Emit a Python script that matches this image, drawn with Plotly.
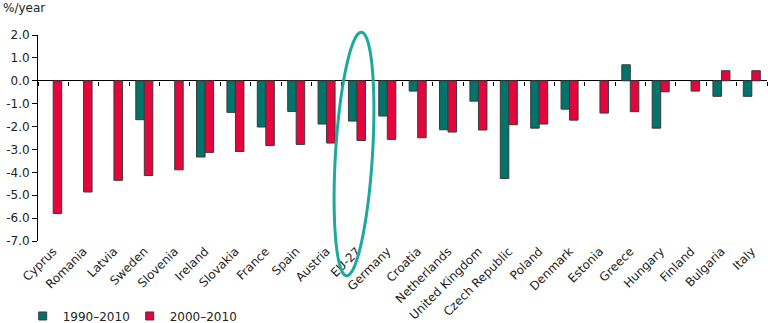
import numpy as np
import plotly.graph_objects as go

countries = ["Cyprus", "Romania", "Latvia", "Sweden", "Slovenia", "Ireland", "Slovakia",
             "France", "Spain", "Austria", "EU-27", "Germany", "Croatia", "Netherlands",
             "United Kingdom", "Czech Republic", "Poland", "Denmark", "Estonia", "Greece",
             "Hungary", "Finland", "Bulgaria", "Italy"]
v1990_2010 = [None, None, None, -1.70, None, -3.33, -1.38,
              -2.02, -1.34, -1.89, -1.76, -1.54, -0.45, -2.14,
              -0.89, -4.27, -2.07, -1.24, None, 0.70,
              -2.07, None, -0.68, -0.68]
v2000_2010 = [-5.80, -4.86, -4.35, -4.14, -3.89, -3.13, -3.09,
              -2.83, -2.78, -2.72, -2.61, -2.56, -2.49, -2.24,
              -2.15, -1.92, -1.89, -1.72, -1.41, -1.35,
              -0.48, -0.45, 0.44, 0.44]
ytick_vals = [2, 1, 0, -1, -2, -3, -4, -5, -6, -7]
ytick_text = ["2.0", "1.0", "0.0", "-1.0", "-2.0", "-3.0", "-4.0", "-5.0", "-6.0", "-7.0"]
series_names = ["1990\u20132010", "2000\u20132010"]

GREEN = "#00746A"
RED = "#E2063C"
EDGE = "#3a3a3a"
FONT = "DejaVu Sans"
FS = 12

W, H = 768, 323
ML, MR, MT, MB = 38, 1, 35, 82
PW = W - ML - MR
PH = H - MT - MB

fig = go.Figure()
fig.add_trace(go.Bar(x=countries, y=v1990_2010, name=series_names[0],
                     marker=dict(color=GREEN, line=dict(color=EDGE, width=1)),
                     showlegend=False))
fig.add_trace(go.Bar(x=countries, y=v2000_2010, name=series_names[1],
                     marker=dict(color=RED, line=dict(color=EDGE, width=1)),
                     showlegend=False))
# legend entries
for nm, col in zip(series_names, [GREEN, RED]):
    fig.add_trace(go.Scatter(x=[None], y=[None], mode="markers", name=nm,
                             marker=dict(symbol="square", size=8, color=col,
                                         line=dict(color=EDGE, width=1))))
# invisible trace for tick marks along zero line
fig.add_trace(go.Scatter(x=countries, y=[None] * len(countries), xaxis="x2",
                         mode="markers", showlegend=False, hoverinfo="skip"))

# highlight ellipse around EU-27 (pixel geometry -> paper)
cx, cy, a, b, tilt = 354.0, 154.0, 122.0, 18.5, np.deg2rad(3.5)
t = np.linspace(0, 2 * np.pi, 120)
ex = cx + b * np.cos(t) * np.cos(tilt) + a * np.sin(t) * np.sin(tilt)
ey = cy - a * np.sin(t) * np.cos(tilt) + b * np.cos(t) * np.sin(tilt)
px_ = (ex - ML) / PW
py_ = (H - MB - ey) / PH
path = "M " + " L ".join(f"{x:.5f},{y:.5f}" for x, y in zip(px_, py_)) + " Z"
fig.add_shape(type="path", path=path, xref="paper", yref="paper",
              line=dict(color="#1DA89B", width=3), fillcolor="rgba(0,0,0,0)")

fig.add_annotation(text="%/year", xref="paper", yref="paper",
                   x=-(ML - 1) / PW, y=(H - MB - 8) / PH, xanchor="left", yanchor="middle",
                   showarrow=False, font=dict(family=FONT, size=FS, color="#222"))

fig.update_layout(
    width=W, height=H,
    margin=dict(l=ML, r=MR, t=MT, b=MB, autoexpand=False),
    paper_bgcolor="white", plot_bgcolor="white",
    barmode="group", bargap=0.44, bargroupgap=0,
    font=dict(family=FONT, size=FS, color="#222"),
    showlegend=True,
    legend=dict(orientation="h", x=-0.021, y=-0.364, xanchor="left", yanchor="middle",
                font=dict(family=FONT, size=FS, color="#222"),
                entrywidth=62, entrywidthmode="pixels", itemclick=False,
                bgcolor="rgba(0,0,0,0)"),
    xaxis=dict(type="category", categoryorder="array", categoryarray=countries,
               range=[-0.5, len(countries) - 0.5], showline=False, ticks="",
               showgrid=False, zeroline=False, tickangle=-45, automargin=False,
               tickfont=dict(family=FONT, size=FS, color="#222")),
    xaxis2=dict(type="category", categoryorder="array", categoryarray=countries,
                overlaying="x", anchor="free", position=7 / 9,
                range=[-0.5, len(countries) - 0.5], tickson="boundaries",
                ticks="outside", ticklen=4, tickcolor="#000", tickwidth=1,
                showticklabels=False, showline=False, showgrid=False, zeroline=False),
    yaxis=dict(range=[-7, 2], tickvals=ytick_vals, ticktext=ytick_text,
               showline=True, linecolor="#000", linewidth=1, automargin=False,
               ticks="outside", ticklen=5, tickcolor="#000",
               showgrid=False, zeroline=True, zerolinecolor="#000", zerolinewidth=1,
               tickfont=dict(family=FONT, size=FS, color="#222")),
)

fig.write_html("out.html")
